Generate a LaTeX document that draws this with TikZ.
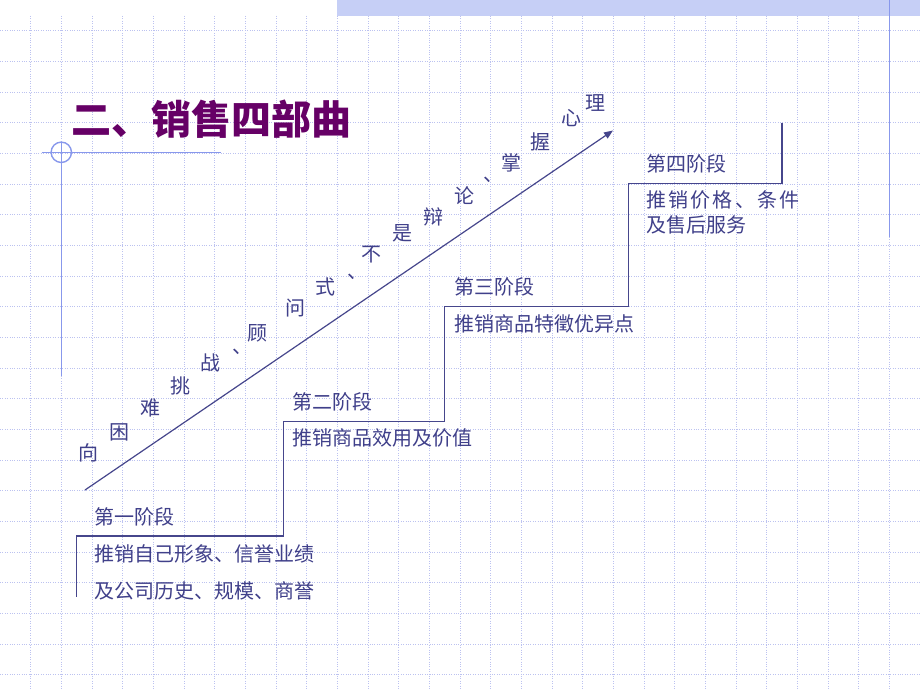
\documentclass[tikz,border=0pt]{standalone}
\usepackage{fontspec}
\setmainfont{Noto Sans CJK SC}
\usetikzlibrary{arrows.meta}
\definecolor{gridc}{RGB}{188,194,240}
\definecolor{barc}{RGB}{198,207,246}
\definecolor{ornc}{RGB}{136,152,236}
\definecolor{titlec}{RGB}{102,0,102}
\definecolor{txtc}{RGB}{64,64,138}
\definecolor{linec}{RGB}{70,70,140}
\newcommand{\lsp}{\hspace{2.2pt}}
\newcommand{\dunhao}{\makebox[0.4em][l]{、}}
\begin{document}
\begin{tikzpicture}[x=1pt,y=-1pt,
  gridline/.style={gridc,line width=0.8pt,dash pattern=on 1pt off 1.4pt},
  orn/.style={ornc,line width=1.4pt},
  stagetxt/.style={anchor=west,inner sep=0pt,text=txtc,font=\fontsize{20pt}{24pt}\selectfont},
  diagch/.style={anchor=center,inner sep=0pt,text=txtc,font=\fontsize{20pt}{24pt}\selectfont},
  stairline/.style={linec,line width=1.4pt},
  arrowline/.style={linec,line width=1.2pt,-{Triangle[length=9pt,width=7pt]}}]
\useasboundingbox (0,0) rectangle (920,690);
\fill[white] (0,0) rectangle (920,690);
% grid
\foreach \i in {1,...,29} {\draw[gridline] ({\i*30.6667},16) -- ({\i*30.6667},690);}
\foreach \j in {1,...,22} {\draw[gridline] (0,{\j*30.6667}) -- (920,{\j*30.6667});}
% top bar
\fill[barc] (337.3,0) rectangle (920,16);
% right vertical line
\draw[orn] (889.3,0) -- (889.3,237);
% left ornament
\draw[orn] (61.3,152.3) circle (10.2);
\draw[orn] (41.7,152.3) -- (221,152.3);
\draw[orn] (61.3,142) -- (61.3,375.7);
% title
\node[anchor=west,inner sep=0pt,text=titlec,font=\fontsize{40pt}{44pt}\selectfont\bfseries] (title) at (71,119) {二、销售四部曲};
% stairs
\coordinate (s0) at (76.7,596.7);
\coordinate (s1) at (76.7,536);
\coordinate (s2) at (283.3,536);
\coordinate (s3) at (283.3,421.7);
\coordinate (s4) at (444.3,421.7);
\coordinate (s5) at (444.3,306.3);
\coordinate (s6) at (628.7,306.3);
\coordinate (s7) at (628.7,183.3);
\coordinate (s8) at (782,183.3);
\coordinate (s9) at (782,122.7);
\draw[stairline] (s0) -- (s1) -- (s2) -- (s3) -- (s4) -- (s5) -- (s6) -- (s7) -- (s8) -- (s9);
% arrow
\coordinate (a0) at (85,490);
\coordinate (a1) at (613,130.5);
\draw[arrowline] (a0) -- (a1);
% stage texts
\node[stagetxt] (t1) at (94,516.7) {第一阶段};
\node[stagetxt] (t1a) at (94,554.3) {推销自己形象、信誉业绩};
\node[stagetxt] (t1b) at (94,590.7) {及公司历史、规模、商誉};
\node[stagetxt] (t2) at (292.5,402.3) {第二阶段};
\node[stagetxt] (t2a) at (292.5,438.3) {推销商品效用及价值};
\node[stagetxt] (t3) at (454.5,286.7) {第三阶段};
\node[stagetxt] (t3a) at (454.5,324.3) {推销商品特徵优异点};
\node[stagetxt] (t4) at (646,164) {第四阶段};
\node[stagetxt] (t4a) at (646,200) {推\lsp 销\lsp 价\lsp 格\lsp 、\lsp 条\lsp 件};
\node[stagetxt] (t4b) at (646,225) {及售后服务};
% diagonal characters
\node[diagch] (d1) at (88.3,453.3) {向};
\node[diagch] (d2) at (119,432.3) {困};
\node[diagch] (d3) at (150,408.3) {难};
\node[diagch] (d4) at (180,385.7) {挑};
\node[diagch] (d5) at (210.7,363.3) {战};
\node[diagch] (d6) at (236.5,351.5) {\dunhao};
\node[diagch] (d7) at (257.3,333.3) {顾};
\node[diagch] (d8) at (295,308.3) {问};
\node[diagch] (d9) at (325.7,286.7) {式};
\node[diagch] (d10) at (351.5,276.5) {\dunhao};
\node[diagch] (d11) at (371.7,255) {不};
\node[diagch] (d12) at (402.3,233.3) {是};
\node[diagch] (d13) at (433.3,216.7) {辩};
\node[diagch] (d14) at (464.2,196) {论};
\node[diagch] (d15) at (487.5,179.5) {\dunhao};
\node[diagch] (d16) at (511.5,162.5) {掌};
\node[diagch] (d17) at (540.7,141.7) {握};
\node[diagch] (d18) at (571,118.3) {心};
\node[diagch] (d19) at (595,103.3) {理};
\end{tikzpicture}
\end{document}
